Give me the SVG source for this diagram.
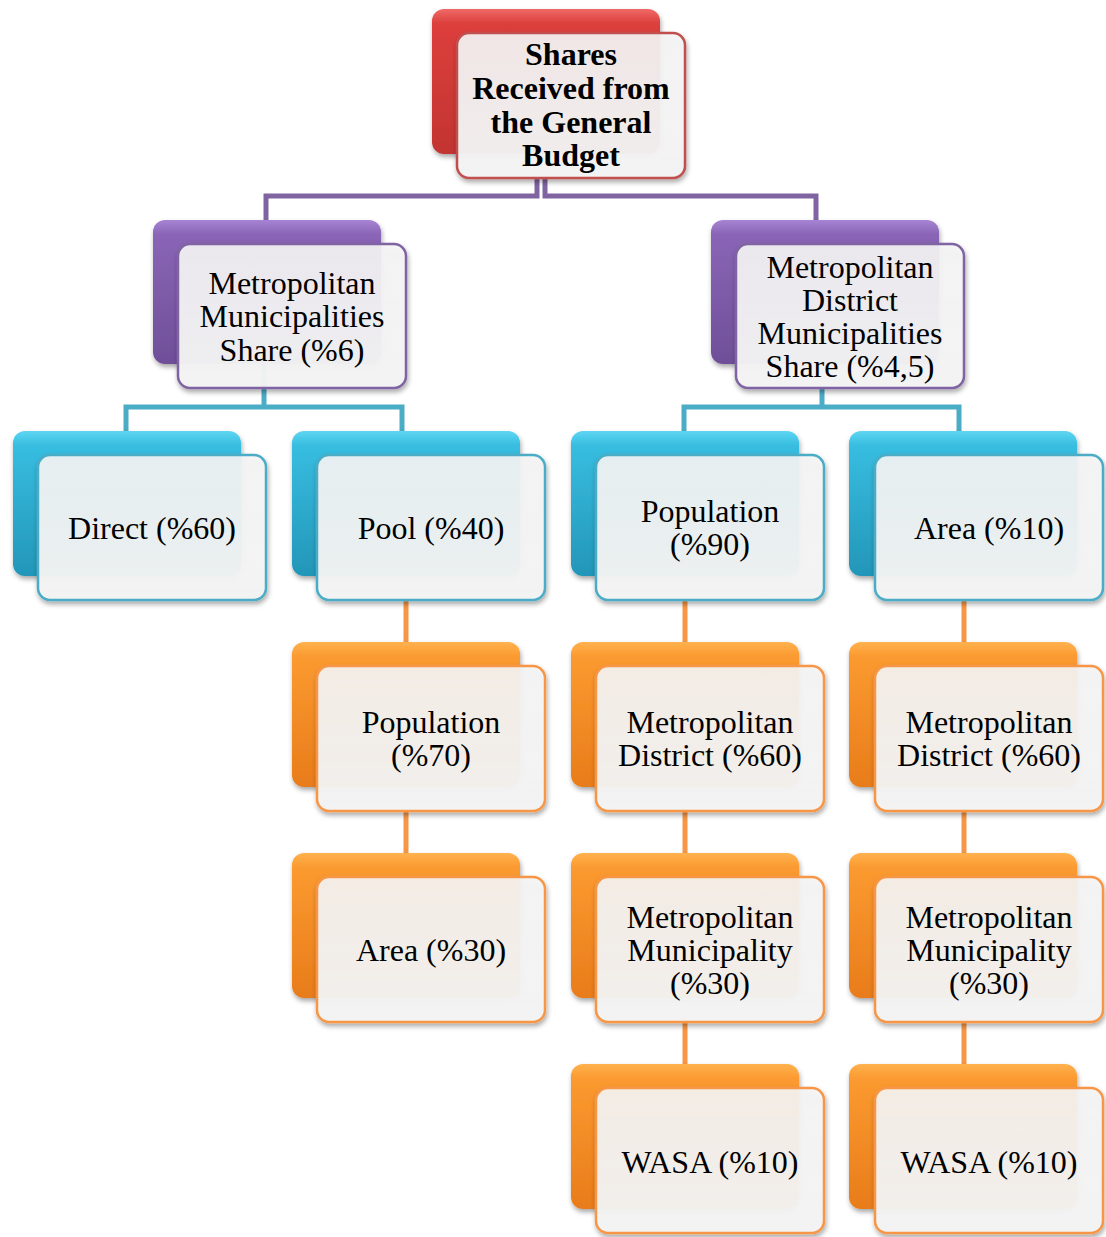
<svg xmlns="http://www.w3.org/2000/svg" width="1106" height="1237" viewBox="0 0 1106 1237">
<style>
text{font-family:"Liberation Serif","Times New Roman",serif;font-size:32px;fill:#000;text-anchor:middle}
.b{font-weight:bold}
.front{fill:url(#fg);stroke-width:2.5}
.conn{fill:none;stroke-width:5}
</style>
<defs>
<filter id="sh" x="-10%" y="-10%" width="130%" height="130%"><feDropShadow dx="1" dy="3" stdDeviation="2.5" flood-color="#000" flood-opacity="0.35"/></filter>
<linearGradient id="fg" x1="0" y1="0" x2="0" y2="1"><stop offset="0" stop-color="#f6f6f6" stop-opacity="0.9"/><stop offset="1" stop-color="#f4f4f4" stop-opacity="0.96"/></linearGradient>
<linearGradient id="gr" x1="0" y1="0" x2="0" y2="1"><stop offset="0" stop-color="#ef6a68"/><stop offset="0.1" stop-color="#dc3f3c"/><stop offset="1" stop-color="#c23431"/></linearGradient>
<linearGradient id="gp" x1="0" y1="0" x2="0" y2="1"><stop offset="0" stop-color="#a784d3"/><stop offset="0.1" stop-color="#8a65b6"/><stop offset="1" stop-color="#6f4f98"/></linearGradient>
<linearGradient id="gb" x1="0" y1="0" x2="0" y2="1"><stop offset="0" stop-color="#5fd6f2"/><stop offset="0.1" stop-color="#37bde0"/><stop offset="1" stop-color="#2396b8"/></linearGradient>
<linearGradient id="go" x1="0" y1="0" x2="0" y2="1"><stop offset="0" stop-color="#ffb24f"/><stop offset="0.1" stop-color="#fb9a30"/><stop offset="1" stop-color="#e87c1a"/></linearGradient>
</defs>
<g id="connectors">
<path class="conn" stroke="#8064a2" d="M537,178 V196 H266 V220"/>
<path class="conn" stroke="#8064a2" d="M545,178 V196 H816 V220"/>
<path class="conn" stroke="#4bacc6" d="M264,364 V407 M126,431 V407 H402 V431"/>
<path class="conn" stroke="#4bacc6" d="M822,388 V407 M684,431 V407 H959 V431"/>
<path class="conn" stroke="#f79646" d="M406,600 V642 M406,811 V853"/>
<path class="conn" stroke="#f79646" d="M685,600 V642 M685,811 V853 M685,1022 V1064"/>
<path class="conn" stroke="#f79646" d="M964,600 V642 M964,811 V853 M964,1022 V1064"/>
</g>
<g id="n-root">
<rect x="432" y="9" width="228" height="145" rx="12" fill="url(#gr)" filter="url(#sh)"/>
<rect class="front" x="457" y="33" width="228" height="145" rx="12" stroke="#c0504d" filter="url(#sh)"/>
<text class="b" x="571" y="65">Shares</text>
<text class="b" x="571" y="99">Received from</text>
<text class="b" x="571" y="133">the General</text>
<text class="b" x="571" y="166">Budget</text>
</g>
<g id="n-mm">
<rect x="153" y="220" width="228" height="144" rx="12" fill="url(#gp)" filter="url(#sh)"/>
<rect class="front" x="178" y="244" width="228" height="144" rx="12" stroke="#8064a2" filter="url(#sh)"/>
<text x="292" y="294">Metropolitan</text>
<text x="292" y="327">Municipalities</text>
<text x="292" y="361">Share (%6)</text>
</g>
<g id="n-mdm">
<rect x="711" y="220" width="228" height="144" rx="12" fill="url(#gp)" filter="url(#sh)"/>
<rect class="front" x="736" y="244" width="228" height="144" rx="12" stroke="#8064a2" filter="url(#sh)"/>
<text x="850" y="278">Metropolitan</text>
<text x="850" y="311">District</text>
<text x="850" y="344">Municipalities</text>
<text x="850" y="377">Share (%4,5)</text>
</g>
<g id="n-direct">
<rect x="13" y="431" width="228" height="145" rx="12" fill="url(#gb)" filter="url(#sh)"/>
<rect class="front" x="38" y="455" width="228" height="145" rx="12" stroke="#4bacc6" filter="url(#sh)"/>
<text x="152" y="539">Direct (%60)</text>
</g>
<g id="n-pool">
<rect x="292" y="431" width="228" height="145" rx="12" fill="url(#gb)" filter="url(#sh)"/>
<rect class="front" x="317" y="455" width="228" height="145" rx="12" stroke="#4bacc6" filter="url(#sh)"/>
<text x="431" y="539">Pool (%40)</text>
</g>
<g id="n-pop90">
<rect x="571" y="431" width="228" height="145" rx="12" fill="url(#gb)" filter="url(#sh)"/>
<rect class="front" x="596" y="455" width="228" height="145" rx="12" stroke="#4bacc6" filter="url(#sh)"/>
<text x="710" y="522">Population</text>
<text x="710" y="555">(%90)</text>
</g>
<g id="n-area10">
<rect x="849" y="431" width="228" height="145" rx="12" fill="url(#gb)" filter="url(#sh)"/>
<rect class="front" x="875" y="455" width="228" height="145" rx="12" stroke="#4bacc6" filter="url(#sh)"/>
<text x="989" y="539">Area (%10)</text>
</g>
<g id="n-pop70">
<rect x="292" y="642" width="228" height="145" rx="12" fill="url(#go)" filter="url(#sh)"/>
<rect class="front" x="317" y="666" width="228" height="145" rx="12" stroke="#f79646" filter="url(#sh)"/>
<text x="431" y="733">Population</text>
<text x="431" y="766">(%70)</text>
</g>
<g id="n-md1">
<rect x="571" y="642" width="228" height="145" rx="12" fill="url(#go)" filter="url(#sh)"/>
<rect class="front" x="596" y="666" width="228" height="145" rx="12" stroke="#f79646" filter="url(#sh)"/>
<text x="710" y="733">Metropolitan</text>
<text x="710" y="766">District (%60)</text>
</g>
<g id="n-md2">
<rect x="849" y="642" width="228" height="145" rx="12" fill="url(#go)" filter="url(#sh)"/>
<rect class="front" x="875" y="666" width="228" height="145" rx="12" stroke="#f79646" filter="url(#sh)"/>
<text x="989" y="733">Metropolitan</text>
<text x="989" y="766">District (%60)</text>
</g>
<g id="n-area30">
<rect x="292" y="853" width="228" height="145" rx="12" fill="url(#go)" filter="url(#sh)"/>
<rect class="front" x="317" y="877" width="228" height="145" rx="12" stroke="#f79646" filter="url(#sh)"/>
<text x="431" y="961">Area (%30)</text>
</g>
<g id="n-mmun1">
<rect x="571" y="853" width="228" height="145" rx="12" fill="url(#go)" filter="url(#sh)"/>
<rect class="front" x="596" y="877" width="228" height="145" rx="12" stroke="#f79646" filter="url(#sh)"/>
<text x="710" y="928">Metropolitan</text>
<text x="710" y="961">Municipality</text>
<text x="710" y="994">(%30)</text>
</g>
<g id="n-mmun2">
<rect x="849" y="853" width="228" height="145" rx="12" fill="url(#go)" filter="url(#sh)"/>
<rect class="front" x="875" y="877" width="228" height="145" rx="12" stroke="#f79646" filter="url(#sh)"/>
<text x="989" y="928">Metropolitan</text>
<text x="989" y="961">Municipality</text>
<text x="989" y="994">(%30)</text>
</g>
<g id="n-wasa1">
<rect x="571" y="1064" width="228" height="145" rx="12" fill="url(#go)" filter="url(#sh)"/>
<rect class="front" x="596" y="1088" width="228" height="145" rx="12" stroke="#f79646" filter="url(#sh)"/>
<text x="710" y="1173">WASA (%10)</text>
</g>
<g id="n-wasa2">
<rect x="849" y="1064" width="228" height="145" rx="12" fill="url(#go)" filter="url(#sh)"/>
<rect class="front" x="875" y="1088" width="228" height="145" rx="12" stroke="#f79646" filter="url(#sh)"/>
<text x="989" y="1173">WASA (%10)</text>
</g>
</svg>
